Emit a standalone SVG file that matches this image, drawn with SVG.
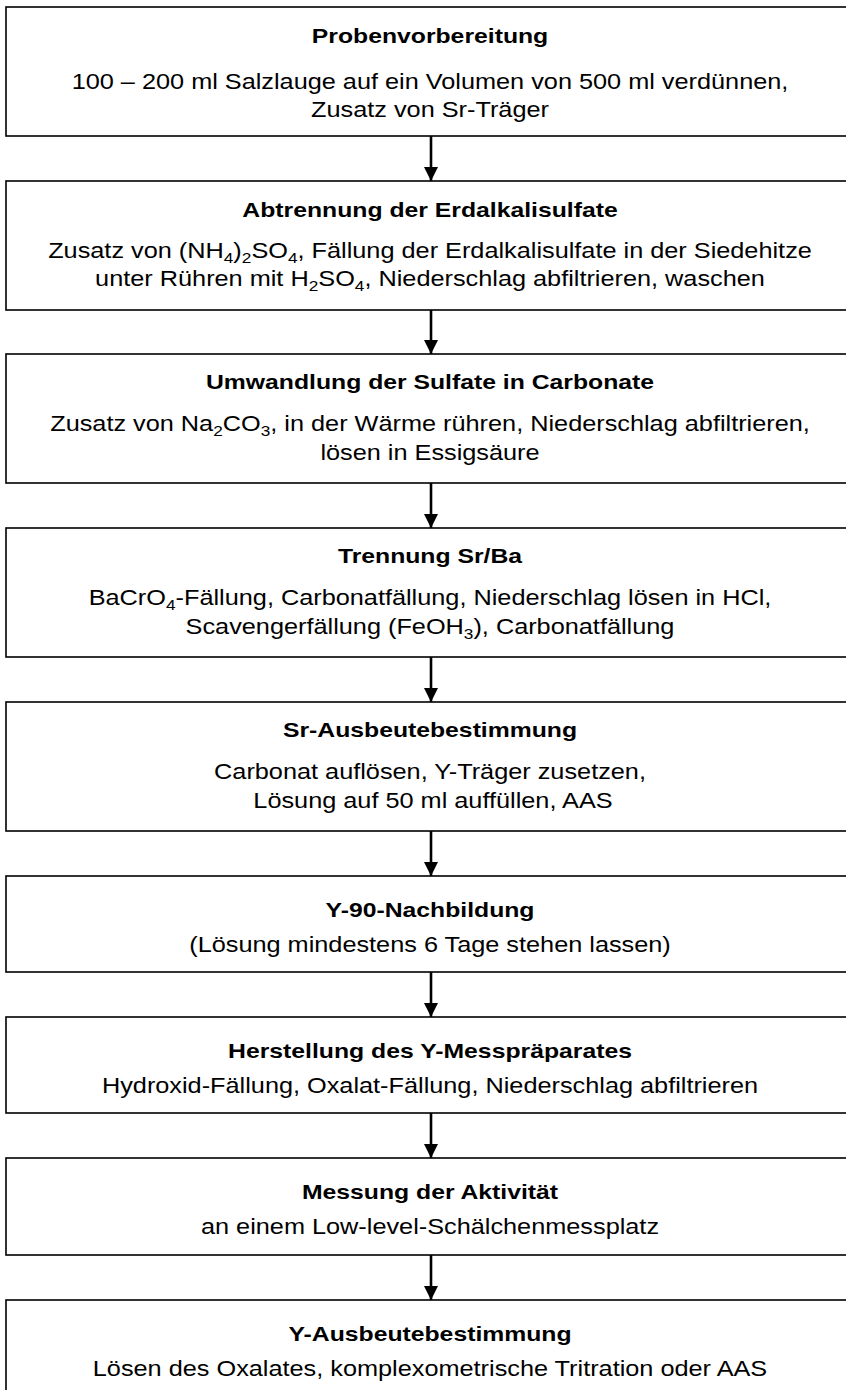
<svg xmlns="http://www.w3.org/2000/svg" width="846" height="1390" viewBox="0 0 846 1390">
<style>
.box{fill:#fff;stroke:#000;stroke-width:1.6}
.t{font-family:"Liberation Sans",Arial,sans-serif;font-weight:bold;font-size:19.5px;text-anchor:middle;fill:#000}
.b{font-family:"Liberation Sans",Arial,sans-serif;font-size:22px;text-anchor:middle;fill:#000}
.s{font-size:15px}
.conn line{stroke:#000;stroke-width:2.6}
</style>
<defs>
<marker id="ah" markerUnits="userSpaceOnUse" markerWidth="14" markerHeight="14" viewBox="0 0 14 14" refX="14" refY="7" orient="auto">
<path d="M0,0 L14,7 L0,14 Z" fill="#000"/>
</marker>
</defs>
<rect width="846" height="1390" fill="#fff"/>
<g id="n1"><rect class="box" x="6" y="7" width="850" height="129"/>
<text class="t" transform="translate(430 43) scale(1.27 1)">Probenvorbereitung</text>
<text class="b" transform="translate(430 89) scale(1.15 1)">100 – 200 ml Salzlauge auf ein Volumen von 500 ml verdünnen,</text>
<text class="b" transform="translate(430 117) scale(1.15 1)">Zusatz von Sr-Träger</text></g>
<g id="n2"><rect class="box" x="6" y="181" width="850" height="129"/>
<text class="t" transform="translate(430 217) scale(1.27 1)">Abtrennung der Erdalkalisulfate</text>
<text class="b" transform="translate(430 258) scale(1.15 1)">Zusatz von (NH<tspan class="s" dy="5">4</tspan><tspan dy="-5">)</tspan><tspan class="s" dy="5">2</tspan><tspan dy="-5">SO</tspan><tspan class="s" dy="5">4</tspan><tspan dy="-5">, Fällung der Erdalkalisulfate in der Siedehitze</tspan></text>
<text class="b" transform="translate(430 286) scale(1.15 1)">unter Rühren mit H<tspan class="s" dy="5">2</tspan><tspan dy="-5">SO</tspan><tspan class="s" dy="5">4</tspan><tspan dy="-5">, Niederschlag abfiltrieren, waschen</tspan></text></g>
<g id="n3"><rect class="box" x="6" y="354" width="850" height="129"/>
<text class="t" transform="translate(430 389) scale(1.27 1)">Umwandlung der Sulfate in Carbonate</text>
<text class="b" transform="translate(430 431) scale(1.15 1)">Zusatz von Na<tspan class="s" dy="5">2</tspan><tspan dy="-5">CO</tspan><tspan class="s" dy="5">3</tspan><tspan dy="-5">, in der Wärme rühren, Niederschlag abfiltrieren,</tspan></text>
<text class="b" transform="translate(430 460) scale(1.15 1)">lösen in Essigsäure</text></g>
<g id="n4"><rect class="box" x="6" y="528" width="850" height="129"/>
<text class="t" transform="translate(430 563) scale(1.27 1)">Trennung Sr/Ba</text>
<text class="b" transform="translate(430 605) scale(1.15 1)">BaCrO<tspan class="s" dy="5">4</tspan><tspan dy="-5">-Fällung, Carbonatfällung, Niederschlag lösen in HCl,</tspan></text>
<text class="b" transform="translate(430 634) scale(1.15 1)">Scavengerfällung (FeOH<tspan class="s" dy="5">3</tspan><tspan dy="-5">), Carbonatfällung</tspan></text></g>
<g id="n5"><rect class="box" x="6" y="702" width="850" height="129"/>
<text class="t" transform="translate(430 737) scale(1.27 1)">Sr-Ausbeutebestimmung</text>
<text class="b" transform="translate(430 779) scale(1.15 1)">Carbonat auflösen, Y-Träger zusetzen,</text>
<text class="b" transform="translate(433 808) scale(1.15 1)">Lösung auf 50 ml auffüllen, AAS</text></g>
<g id="n6"><rect class="box" x="6" y="876" width="850" height="96"/>
<text class="t" transform="translate(430 917) scale(1.27 1)">Y-90-Nachbildung</text>
<text class="b" transform="translate(430 952) scale(1.15 1)">(Lösung mindestens 6 Tage stehen lassen)</text></g>
<g id="n7"><rect class="box" x="6" y="1017" width="850" height="96"/>
<text class="t" transform="translate(430 1058) scale(1.27 1)">Herstellung des Y-Messpräparates</text>
<text class="b" transform="translate(430 1093) scale(1.15 1)">Hydroxid-Fällung, Oxalat-Fällung, Niederschlag abfiltrieren</text></g>
<g id="n8"><rect class="box" x="6" y="1158" width="850" height="97"/>
<text class="t" transform="translate(430 1199) scale(1.27 1)">Messung der Aktivität</text>
<text class="b" transform="translate(430 1234) scale(1.15 1)">an einem Low-level-Schälchenmessplatz</text></g>
<g id="n9"><rect class="box" x="6" y="1300" width="850" height="120"/>
<text class="t" transform="translate(430 1341) scale(1.27 1)">Y-Ausbeutebestimmung</text>
<text class="b" transform="translate(430 1376) scale(1.15 1)">Lösen des Oxalates, komplexometrische Tritration oder AAS</text></g>
<g id="connectors" class="conn">
<line x1="431" y1="136" x2="431" y2="181" marker-end="url(#ah)"/>
<line x1="431" y1="310" x2="431" y2="354" marker-end="url(#ah)"/>
<line x1="431" y1="483" x2="431" y2="528" marker-end="url(#ah)"/>
<line x1="431" y1="657" x2="431" y2="702" marker-end="url(#ah)"/>
<line x1="431" y1="831" x2="431" y2="876" marker-end="url(#ah)"/>
<line x1="431" y1="972" x2="431" y2="1017" marker-end="url(#ah)"/>
<line x1="431" y1="1113" x2="431" y2="1158" marker-end="url(#ah)"/>
<line x1="431" y1="1255" x2="431" y2="1300" marker-end="url(#ah)"/>
</g>
</svg>
